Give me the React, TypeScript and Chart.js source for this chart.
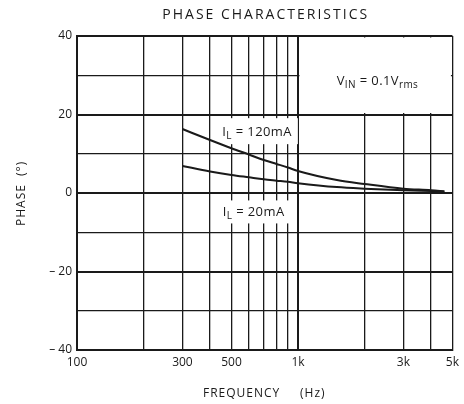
import React, { useEffect, useRef } from "react";
import { Chart, registerables } from "chart.js";

Chart.register(...registerables);

const freqHz = [300, 400, 500, 600, 700, 800, 900, 1000, 1500, 2000, 3000, 4000, 4600];
const phase120mA = [16.3, 13.5, 11.4, 9.8, 8.4, 7.4, 6.5, 5.6, 3.3, 2.3, 1.1, 0.7, 0.4];
const phase20mA = [6.9, 5.5, 4.6, 4.0, 3.5, 3.15, 2.85, 2.5, 1.5, 1.1, 0.7, 0.5, 0.4];

const xGridValues = [100, 200, 300, 400, 500, 600, 700, 800, 900, 1000, 2000, 3000, 4000, 5000];
const xTickLabels: Record<number, string> = { 100: "100", 300: "300", 500: "500", 1000: "1k", 3000: "3k", 5000: "5k" };
const yLabelled = [-40, -20, 0, 20, 40];

const TITLE = "PHASE CHARACTERISTICS";
const X_TITLE_A = "FREQUENCY";
const X_TITLE_B = "(Hz)";
const Y_TITLE_A = "PHASE";
const Y_TITLE_B = "(\u00B0)";

type Seg = { t: string; sub?: boolean };
const labelVin: Seg[] = [{ t: "V" }, { t: "IN", sub: true }, { t: " = 0.1V" }, { t: "rms", sub: true }];
const label120: Seg[] = [{ t: "I" }, { t: "L", sub: true }, { t: " = 120mA" }];
const label20: Seg[] = [{ t: "I" }, { t: "L", sub: true }, { t: " = 20mA" }];
// anchors (frequency, phase) for the annotation texts
const vinAnchor = [2290, 28.4];
const anchor120 = [653, 15.5];
const anchor20 = [630, -4.95];

const FONT = "'Open Sans', 'Liberation Sans', sans-serif";
const INK = "#1a1a1a";
const LBL = 13;

function setFont(ctx: CanvasRenderingContext2D, size: number, spacing: number) {
  ctx.font = `${size}px ${FONT}`;
  (ctx as any).letterSpacing = `${spacing}px`;
}

function richWidth(ctx: CanvasRenderingContext2D, segs: Seg[], size: number) {
  let w = 0;
  for (const s of segs) {
    setFont(ctx, s.sub ? Math.round(size * 0.75) : size, 0.4);
    w += ctx.measureText(s.t).width;
  }
  return w;
}

function drawRich(ctx: CanvasRenderingContext2D, segs: Seg[], cx: number, cy: number, size: number) {
  const w = richWidth(ctx, segs, size);
  let x = cx - w / 2;
  ctx.textBaseline = "middle";
  ctx.textAlign = "left";
  ctx.fillStyle = INK;
  for (const s of segs) {
    setFont(ctx, s.sub ? Math.round(size * 0.75) : size, 0.4);
    ctx.fillText(s.t, x, s.sub ? cy + 3.5 : cy);
    x += ctx.measureText(s.t).width;
  }
  return w;
}

const decorPlugin = {
  id: "decor",
  beforeDatasetsDraw(chart: any) {
    const { ctx, scales } = chart;
    const xs = scales.x, ys = scales.y;
    ctx.save();
    ctx.fillStyle = "#ffffff";
    // V_IN box: 1k..5k, 20..40
    const x1 = xs.getPixelForValue(1000), x2 = xs.getPixelForValue(5000);
    const y1 = ys.getPixelForValue(40), y2 = ys.getPixelForValue(20);
    ctx.fillRect(x1 + 1.5, y1 + 1.5, x2 - x1 - 3, y2 - y1 - 3);
    const w120 = richWidth(ctx, label120, LBL);
    const c120x = xs.getPixelForValue(anchor120[0]), c120y = ys.getPixelForValue(anchor120[1]);
    ctx.fillStyle = "#ffffff";
    ctx.fillRect(c120x - w120 / 2 - 6, c120y - 14, w120 + 12, 26);
    const w20 = richWidth(ctx, label20, LBL);
    const c20x = xs.getPixelForValue(anchor20[0]), c20y = ys.getPixelForValue(anchor20[1]);
    ctx.fillStyle = "#ffffff";
    ctx.fillRect(c20x - w20 / 2 - 6, c20y - 12, w20 + 12, 23);
    drawRich(ctx, labelVin, xs.getPixelForValue(vinAnchor[0]), ys.getPixelForValue(vinAnchor[1]), LBL);
    drawRich(ctx, label120, c120x, c120y, LBL);
    drawRich(ctx, label20, c20x, c20y, LBL);
    ctx.restore();
  },
  afterDraw(chart: any) {
    const { ctx, chartArea } = chart;
    const cx = (chartArea.left + chartArea.right) / 2;
    ctx.save();
    ctx.fillStyle = INK;
    ctx.textBaseline = "middle";
    ctx.textAlign = "center";
    setFont(ctx, 14, 2);
    ctx.fillText(TITLE, cx + 1, 15);
    // x title
    setFont(ctx, 12, 1);
    ctx.textAlign = "left";
    ctx.fillText(X_TITLE_A, 203, 394);
    ctx.fillText(X_TITLE_B, 300, 394);
    // y title
    ctx.translate(22, 0);
    ctx.rotate(-Math.PI / 2);
    ctx.fillText(Y_TITLE_A, -226, 0);
    ctx.fillText(Y_TITLE_B, -176, 0);
    ctx.restore();
  },
};

export default function App() {
  const ref = useRef<HTMLCanvasElement>(null);
  useEffect(() => {
    document.body.style.margin = "0";
    const chart = new Chart(ref.current!, {
      type: "line",
      data: {
        datasets: [
          {
            label: "IL = 120mA",
            data: freqHz.map((f, i) => ({ x: f, y: phase120mA[i] })),
            borderColor: INK,
            borderWidth: 2,
            pointRadius: 0,
            cubicInterpolationMode: "monotone",
          },
          {
            label: "IL = 20mA",
            data: freqHz.map((f, i) => ({ x: f, y: phase20mA[i] })),
            borderColor: INK,
            borderWidth: 2,
            pointRadius: 0,
            cubicInterpolationMode: "monotone",
          },
        ],
      },
      options: {
        animation: false,
        responsive: false,
        maintainAspectRatio: false,
        layout: { padding: { left: 0, right: 11, top: 36, bottom: 0 } },
        plugins: { legend: { display: false }, title: { display: false }, tooltip: { enabled: false } },
        scales: {
          x: {
            type: "logarithmic",
            min: 100,
            max: 5000,
            afterBuildTicks: (scale: any) => {
              scale.ticks = xGridValues.map((v) => ({ value: v }));
            },
            afterFit: (scale: any) => {
              scale.height = 54;
            },
            ticks: {
              autoSkip: false,
              maxRotation: 0,
              padding: 5,
              color: INK,
              font: { family: FONT, size: 12 },
              callback: (v: any) => xTickLabels[Number(v)] ?? "",
            },
            grid: {
              drawTicks: false,
              color: INK,
              lineWidth: (c: any) => (c.tick && c.tick.value === 1000 ? 2 : 1.3),
            },
            border: { display: true, color: INK, width: 2 },
          },
          y: {
            min: -40,
            max: 40,
            afterFit: (scale: any) => {
              scale.width = 77;
            },
            ticks: {
              stepSize: 10,
              padding: 5,
              color: INK,
              font: { family: FONT, size: 12 },
              callback: (v: any) => {
                const n = Number(v);
                if (!yLabelled.includes(n)) return "";
                return n < 0 ? "\u2013 " + -n : String(n);
              },
            },
            grid: {
              drawTicks: false,
              color: INK,
              lineWidth: (c: any) => (c.tick && c.tick.value % 20 === 0 ? 2 : 1.3),
            },
            border: { display: true, color: INK, width: 2 },
          },
        },
      },
      plugins: [decorPlugin],
    } as any);
    return () => chart.destroy();
  }, []);
  return (
    <div style={{ width: 464, height: 404 }}>
      <canvas ref={ref} width={464} height={404} style={{ width: 464, height: 404, display: "block" }} />
    </div>
  );
}
